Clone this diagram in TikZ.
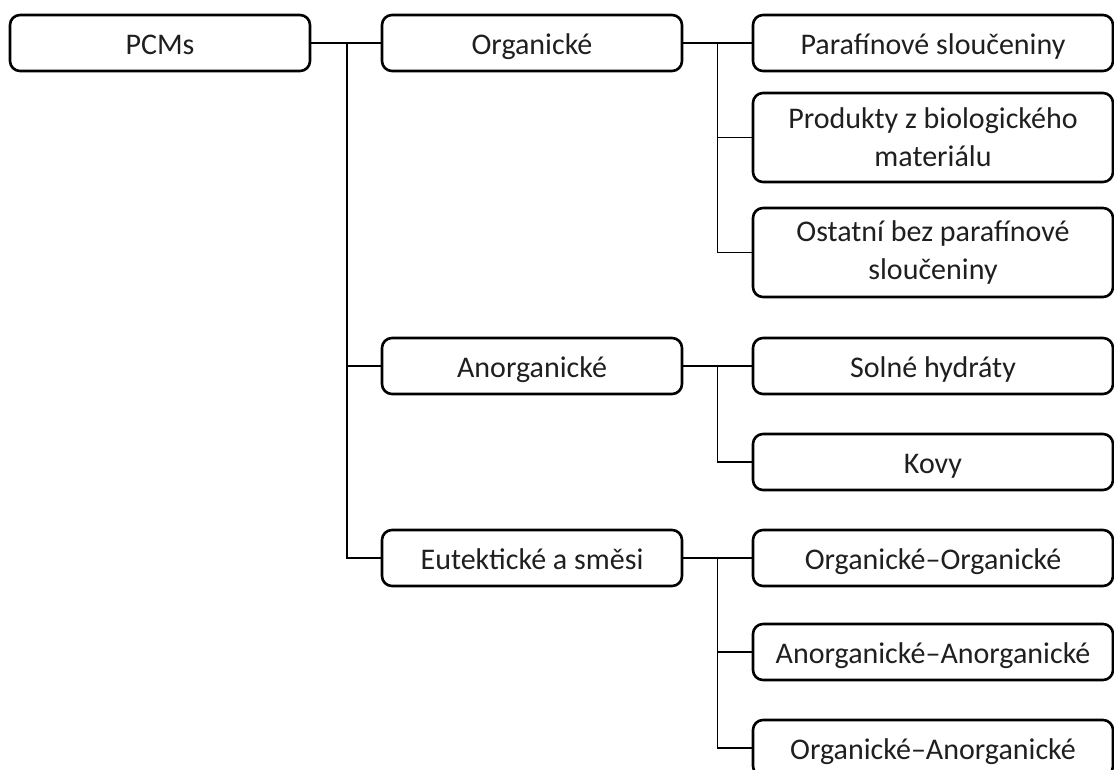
\documentclass[tikz,border=0pt]{standalone}
\usepackage{fontspec}
\setmainfont{Carlito}
\usetikzlibrary{calc}
\begin{document}
\begin{tikzpicture}[x=1pt,y=-1pt,
  box/.style={draw,line width=2.6pt,rounded corners=10pt,minimum height=56pt,
    inner sep=0pt,align=center,text=black!88,font=\fontsize{30}{38}\selectfont},
  oneline/.style={execute at begin node={\rule[-9pt]{0pt}{40pt}}},
  mainbox/.style={box,oneline,minimum width=300pt},
  leafbox/.style={box,oneline,minimum width=360pt},
  tallbox/.style={box,minimum width=360pt,minimum height=89pt},
  link/.style={line width=1.6pt}]
  \useasboundingbox (0,0) rectangle (1114,769);
  % levels
  \node[mainbox] (pcm) at (160,43) {PCMs};
  \node[mainbox] (org) at (532,43) {Organické};
  \node[mainbox] (ano) at (532,366) {Anorganické};
  \node[mainbox] (eut) at (532,558) {Eutektické a směsi};
  % leaves
  \node[leafbox] (par) at (933,43) {Parafínové sloučeniny};
  \node[tallbox] (pro) at (933,137.5) {Produkty z biologického\\materiálu};
  \node[tallbox] (ost) at (933,252.5) {Ostatní bez parafínové\\sloučeniny};
  \node[leafbox] (sol) at (933,366) {Solné hydráty};
  \node[leafbox] (kov) at (933,462) {Kovy};
  \node[leafbox] (oo) at (933,558) {Organické–Organické};
  \node[leafbox] (aa) at (933,652) {Anorganické–Anorganické};
  \node[leafbox] (oa) at (933,748) {Organické–Anorganické};
  % connectors
  \coordinate (pj) at (347,43);
  \draw[link] (pcm.east) -- (org.west);
  \draw[link] (pj) |- (ano.west);
  \draw[link] (pj) |- (eut.west);
  \coordinate (oj) at ($(org.east)!0.5!(par.west)$);
  \draw[link] (org.east) -- (par.west);
  \draw[link] (oj) |- (pro.west);
  \draw[link] (oj) |- (ost.west);
  \coordinate (aj) at ($(ano.east)!0.5!(sol.west)$);
  \draw[link] (ano.east) -- (sol.west);
  \draw[link] (aj) |- (kov.west);
  \coordinate (ej) at ($(eut.east)!0.5!(oo.west)$);
  \draw[link] (eut.east) -- (oo.west);
  \draw[link] (ej) |- (aa.west);
  \draw[link] (ej) |- (oa.west);
\end{tikzpicture}
\end{document}
